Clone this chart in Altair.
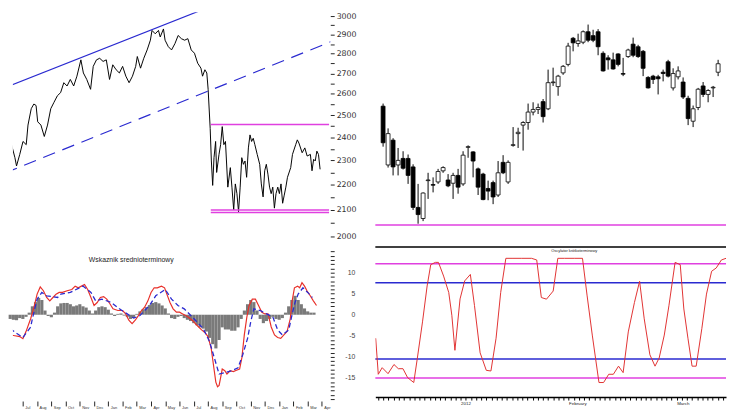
import altair as alt
import pandas as pd

FONT = "Liberation Sans"
MAGENTA = "#e040e0"
BLUE = "#2a2ad0"

# ---------------- left top: index close (months from start, log price) ----------------
lt_month = [0, 0.22, 0.44, 0.67, 0.78, 1.0, 1.22, 1.44, 1.56, 1.78,
            1.96, 2.11, 2.22, 2.44, 2.67, 2.89, 3.11, 3.33, 3.56, 3.78,
            4.0, 4.22, 4.44, 4.67, 4.89, 5.16, 5.33, 5.56, 5.82, 6.0,
            6.22, 6.44, 6.67, 6.89, 7.11, 7.33, 7.56, 7.78, 8.0, 8.22,
            8.44, 8.67, 8.89, 9.0, 9.22, 9.44, 9.67, 9.89, 10.0, 10.22,
            10.44, 10.56, 10.78, 10.89, 11.11, 11.33, 11.56, 11.78, 12.0, 12.22,
            12.44, 12.67, 12.89, 13.11, 13.33, 13.44, 13.6, 13.73, 13.82, 13.96,
            14.04, 14.13, 14.22, 14.33, 14.4, 14.56, 14.67, 14.78, 14.89, 15.0,
            15.16, 15.33, 15.44, 15.56, 15.67, 15.78, 15.89, 16.0, 16.11, 16.22,
            16.33, 16.44, 16.56, 16.67, 16.78, 16.89, 17.0, 17.16, 17.33, 17.44,
            17.56, 17.67, 17.78, 17.89, 18.0, 18.11, 18.22, 18.33, 18.44, 18.56,
            18.67, 18.78, 18.89, 19.0, 19.11, 19.22, 19.44, 19.56, 19.78, 19.89,
            20.0, 20.22, 20.4, 20.56, 20.78, 20.89, 21.0, 21.11, 21.22, 21.33, 21.44]
lt_close = [2382, 2404, 2368, 2312, 2277, 2326, 2382, 2368, 2455, 2530,
            2552, 2545, 2470, 2455, 2404, 2455, 2530, 2560, 2591, 2606,
            2654, 2638, 2670, 2638, 2686, 2768, 2702, 2670, 2622, 2735,
            2768, 2776, 2760, 2768, 2670, 2743, 2718, 2702, 2735, 2686,
            2654, 2686, 2735, 2785, 2726, 2776, 2819, 2870, 2922, 2904,
            2922, 2887, 2930, 2870, 2836, 2819, 2852, 2895, 2878, 2870,
            2878, 2819, 2802, 2751, 2726, 2686, 2718, 2702, 2622, 2440,
            2298, 2197, 2312, 2382, 2250, 2326, 2368, 2448, 2368, 2382,
            2190, 2270, 2190, 2100, 2203, 2164, 2093, 2190, 2312, 2284,
            2298, 2230, 2354, 2411, 2382, 2396, 2368, 2326, 2284, 2203,
            2151, 2257, 2284, 2243, 2190, 2164, 2190, 2107, 2164, 2190,
            2164, 2203, 2126, 2158, 2190, 2230, 2270, 2326, 2368, 2389,
            2375, 2333, 2354, 2319, 2326, 2257, 2305, 2298, 2340, 2326, 2263]

up_trend_month = [0.0, 14.0]
up_trend_value = [2630, 3054]
dn_trend_month = [0.0, 22.2]
dn_trend_value = [2248, 2863]
level_start = [14.0, 14.0, 14.0]
level_end = [22.05, 22.05, 22.05]
level_value = [2458, 2100, 2090]

# ---------------- left bottom: medium-term indicator ----------------
macd_month = [0, 0.33, 0.67, 0.89, 1.11, 1.44, 1.67, 1.89, 2.11, 2.33,
              2.56, 2.78, 3.0, 3.22, 3.44, 3.67, 4.0, 4.33, 4.56, 4.78,
              5.0, 5.22, 5.44, 5.67, 5.89, 6.11, 6.33, 6.56, 6.78, 7.0,
              7.22, 7.56, 7.89, 8.11, 8.33, 8.56, 8.78, 9.0, 9.22, 9.44,
              9.67, 9.89, 10.11, 10.33, 10.62, 10.84, 11.0, 11.22, 11.44, 11.67,
              11.89, 12.11, 12.33, 12.56, 12.78, 13.11, 13.44, 13.67, 13.89, 14.11,
              14.33, 14.44, 14.56, 14.67, 14.78, 14.89, 15.07, 15.22, 15.44, 15.67,
              15.89, 16.11, 16.27, 16.44, 16.62, 16.78, 17.0, 17.22, 17.44, 17.67,
              17.89, 18.11, 18.33, 18.56, 18.78, 19.0, 19.22, 19.44, 19.67, 19.78,
              19.96, 20.18, 20.33, 20.49, 20.67, 20.84, 21.07, 21.29, 21.51]
macd_value = [-4.8, -5.0, -5.2, -5.7, -4.0, -0.9, 1.8, 4.9, 6.6, 5.7,
              4.1, 3.3, 4.1, 4.9, 5.3, 5.3, 5.7, 6.0, 6.8, 6.4,
              6.8, 7.2, 6.0, 4.1, 2.2, 2.9, 4.1, 4.3, 3.7, 2.6,
              1.4, 1.0, 1.0, 0.2, -1.3, -2.1, -1.3, -0.2, 1.0, 1.8,
              3.3, 5.3, 6.4, 6.4, 6.8, 6.4, 4.9, 2.9, 1.4, 0.6,
              0.6, 0.2, -0.2, -0.7, -1.3, -2.5, -3.6, -4.2, -5.2, -7.9,
              -13.3, -16.0, -17.1, -16.8, -14.9, -12.9, -13.3, -14.1, -13.3, -13.5,
              -13.2, -12.9, -10.2, -4.8, -0.5, 2.2, 3.7, 3.7, 2.2, 0.6,
              0.2, 0.2, -2.9, -4.8, -5.4, -5.6, -4.8, -4.0, -0.9, 2.9,
              6.4, 6.8, 6.4, 7.6, 6.8, 5.7, 4.5, 3.3, 2.2]
signal_month = [0, 0.44, 0.89, 1.44, 1.56, 1.89, 2.22, 2.56, 3.33, 3.56,
                4.22, 5.11, 5.67, 6.0, 6.44, 7.11, 7.67, 8.22, 8.67, 9.11,
                9.78, 10.22, 10.89, 11.33, 11.78, 12.22, 12.89, 13.56, 14.0, 14.4,
                14.67, 15.11, 15.56, 16.0, 16.33, 16.67, 16.89, 17.11, 17.56, 18.0,
                18.44, 18.78, 19.11, 19.56, 19.78, 20.0, 20.22, 20.56, 20.89, 21.22]
signal_value = [-3.3, -4.4, -5.4, -2.9, -0.9, 3.7, 5.3, 4.5, 4.1, 4.9,
                5.3, 6.8, 5.3, 3.3, 3.7, 2.9, 1.4, 0.2, -0.8, -0.2,
                2.2, 4.5, 6.0, 3.7, 2.2, 1.4, -0.9, -3.3, -6.4, -11.0,
                -14.1, -13.7, -13.3, -12.6, -9.5, -5.6, -1.7, 1.4, 1.0, 0.2,
                -0.5, -3.6, -4.8, -3.6, -0.2, 2.9, 4.9, 6.4, 5.3, 4.1]
hist_value = [-1.0, -1.2, -1.3, -0.8, -1.0, -0.5, 0.5, 2.0, 3.0, 4.0,
              3.5, 1.0, -0.3, -0.6, 0.5, 2.0, 2.7, 2.8, 2.8, 2.5,
              2.0, 2.2, 2.5, 2.0, 1.7, 1.0, 0.3, 1.0, 1.8, 2.0,
              1.8, 1.2, 0.3, -0.3, 0.2, 0.3, -0.2, -0.5, -1.0, -0.8,
              0.2, 0.8, 1.3, 1.8, 2.3, 2.8, 3.0, 2.7, 2.2, 1.5,
              0.3, -0.8, -1.0, -0.5, -0.3, -0.8, -1.2, -1.5, -2.0, -2.5,
              -3.0, -3.3, -4.0, -5.5, -7.0, -8.0, -6.0, -3.0, -3.5, -3.5,
              -3.8, -3.8, -3.0, -1.0, 1.0, 2.5, 3.5, 3.0, 1.0, -1.0,
              -2.0, -1.5, -1.0, -0.5, -1.0, -1.2, -0.8, 0.5, 2.0, 3.5,
              4.5, 3.5, 2.5, 1.5, 0.8, 0.5, 0.5]
hist_month = [round(k * 10 / 45, 3) for k in range(len(hist_value))]
month_names = ["Jul", "Aug", "Sep", "Oct", "Nov", "Dec", "Jan", "Feb", "Mar", "Apr", "May",
               "Jun", "Jul", "Aug", "Sep", "Oct", "Nov", "Dec", "Jan", "Feb", "Mar", "Apr"]
month_ticks = [k + 0.89 for k in range(len(month_names))]
lb_title = "Wskaznik srednioterminowy"

# ---------------- right top: daily candles ----------------
c_open = [2294, 2204, 2242, 2204, 2214, 2214, 2201, 2139, 2122, 2180,
          2174, 2178, 2195, 2181, 2176, 2188, 2175, 2231, 2224, 2198,
          2190, 2168, 2177, 2158, 2208, 2178, 2234, 2252, 2265, 2269,
          2285, 2289, 2301, 2290, 2330, 2324, 2345, 2358, 2398, 2390,
          2392, 2408, 2402, 2408, 2375, 2368, 2365, 2374, 2344, 2370,
          2389, 2385, 2378, 2338, 2340, 2339, 2346, 2362, 2322, 2339,
          2331, 2306, 2271, 2292, 2325, 2312, 2322, 2346]
c_close = [2238, 2252, 2201, 2211, 2199, 2188, 2139, 2128, 2161, 2181,
           2173, 2194, 2200, 2172, 2188, 2170, 2219, 2232, 2210, 2170,
           2151, 2164, 2155, 2192, 2192, 2208, 2235, 2254, 2269, 2285,
           2289, 2292, 2278, 2330, 2331, 2340, 2355, 2386, 2391, 2394,
           2408, 2395, 2395, 2385, 2348, 2365, 2351, 2358, 2343, 2380,
           2372, 2370, 2352, 2322, 2335, 2336, 2344, 2340, 2344, 2348,
           2308, 2275, 2290, 2320, 2312, 2318, 2323, 2359]
c_high = [2298, 2260, 2245, 2230, 2225, 2220, 2205, 2175, 2162, 2192,
          2185, 2198, 2202, 2190, 2192, 2198, 2225, 2234, 2225, 2200,
          2192, 2180, 2180, 2210, 2219, 2211, 2262, 2261, 2271, 2298,
          2300, 2298, 2305, 2350, 2353, 2342, 2357, 2391, 2400, 2405,
          2410, 2419, 2411, 2412, 2378, 2372, 2376, 2375, 2368, 2382,
          2399, 2388, 2380, 2340, 2342, 2342, 2350, 2365, 2352, 2355,
          2338, 2310, 2295, 2322, 2331, 2320, 2325, 2365]
c_low = [2232, 2200, 2188, 2188, 2197, 2175, 2135, 2114, 2118, 2152,
         2162, 2175, 2192, 2170, 2152, 2160, 2172, 2215, 2185, 2158,
         2150, 2150, 2144, 2155, 2190, 2175, 2232, 2230, 2226, 2258,
         2280, 2282, 2269, 2288, 2325, 2310, 2342, 2355, 2378, 2385,
         2389, 2392, 2392, 2372, 2347, 2350, 2350, 2355, 2340, 2368,
         2369, 2368, 2340, 2321, 2328, 2312, 2332, 2338, 2318, 2335,
         2305, 2265, 2262, 2288, 2308, 2300, 2308, 2340]
candle_support = [2112]

# ---------------- right bottom: short-term oscillator ----------------
osc_idx = [-0.5, 0, 0.76, 1.9, 3.05, 3.9, 4.8, 5.7, 6.9, 7.6,
           8.6, 9.5, 10.2, 11.1, 11.7, 12.7, 13.7, 14.3, 14.9, 15.9,
           16.8, 17.9, 18.7, 19.8, 21.0, 21.9, 22.9, 23.8, 24.8, 26.0,
           27.9, 29.8, 30.8, 31.7, 32.7, 34.0, 34.9, 36.2, 38.1, 39.7,
           40.6, 41.6, 42.9, 43.8, 44.8, 45.7, 46.7, 47.6, 48.6, 49.8,
           50.8, 51.7, 52.8, 53.8, 54.6, 55.6, 56.5, 57.7, 58.7, 59.4,
           60.2, 61.0, 61.8, 62.9, 63.8, 64.8, 65.7, 66.7, 67.6]
osc_value = [36.3, 7.9, 13.1, 8.4, 15.6, 12.3, 12.3, 5.3, 1.4, 20.7,
             49.2, 77.5, 94.3, 96.1, 96.1, 85.3, 72.4, 54.4, 26.8, 67.3,
             81.5, 86.6, 62.2, 24.8, 11.0, 10.5, 36.3, 72.4, 99.3, 99.3,
             99.3, 99.3, 98.0, 68.4, 67.1, 73.5, 99.3, 99.3, 99.3, 99.3,
             69.7, 38.8, 1.4, 1.4, 7.9, 7.9, 14.3, 9.2, 41.3, 64.5,
             81.2, 51.6, 23.3, 14.3, 20.7, 38.8, 61.9, 96.1, 94.3, 59.4,
             36.3, 14.3, 14.3, 43.9, 71.1, 89.1, 91.7, 98.0, 99.3]
osc_levels = [95, 80, 20, 5]
osc_level_colors = [MAGENTA, BLUE, BLUE, MAGENTA]
osc_frame = [108.3]
rb_title = "Oscylator krótkoterminowy"
rb_month_labels = {16: "2012", 37: "February", 58: "March"}

# =================== LEFT TOP ===================
lt_x = alt.Scale(domain=[0.533, 22.133], nice=False, zero=False)
lt_y = alt.Scale(type="log", domain=[1982, 3022], nice=False)
lt_axis = alt.Axis(orient="right", values=list(range(2000, 3001, 50)), format="d",
                   labelExpr="datum.value % 100 == 0 ? datum.label : ''",
                   domain=False, grid=False, tickSize=4, tickColor="#222222",
                   labelFont="DejaVu Sans", labelFontSize=8, labelColor="#333333",
                   labelPadding=2, labelOverlap=False, minExtent=45, maxExtent=45, title=None)
X_lt = alt.X("m:Q", scale=lt_x, axis=None)
Y_lt = alt.Y("p:Q", scale=lt_y, axis=lt_axis)

price_line = alt.Chart(pd.DataFrame({"m": lt_month, "p": lt_close})).mark_line(
    color="black", strokeWidth=1, clip=True).encode(x=X_lt, y=Y_lt)
trend_up = alt.Chart(pd.DataFrame({"m": up_trend_month, "p": up_trend_value})).mark_line(
    color=BLUE, strokeWidth=1.2, clip=True).encode(x=X_lt, y=Y_lt)
trend_dn = alt.Chart(pd.DataFrame({"m": dn_trend_month, "p": dn_trend_value})).mark_line(
    color=BLUE, strokeWidth=1.2, strokeDash=[13, 8], clip=True).encode(x=X_lt, y=Y_lt)
levels = alt.Chart(pd.DataFrame({"m": level_start, "m2": level_end, "p": level_value})).mark_rule(
    color=MAGENTA, strokeWidth=1.5, clip=True).encode(x=X_lt, x2="m2:Q", y=Y_lt)
left_top = alt.layer(price_line, trend_up, trend_dn, levels).properties(width=324, height=234)

# =================== LEFT BOTTOM ===================
lb_y = alt.Scale(domain=[-20.5, 15.8], nice=False, zero=False)
lb_axis_y = alt.Axis(orient="right", values=list(range(-20, 16)),
                     labelExpr="datum.value % 5 == 0 && datum.value >= -15 && datum.value <= 10 ? (datum.value < 0 ? '-' : '') + abs(datum.value) : ''",
                     domain=False, grid=False, tickSize=4, tickColor="#222222",
                     labelAlign="right", labelPadding=21, labelFont=FONT, labelFontSize=7,
                     labelColor="#444444", labelOverlap=False, minExtent=45, maxExtent=45, title=None)
names_js = "[" + ",".join("'" + n + "'" for n in month_names) + "]"
lb_axis_x = alt.Axis(values=month_ticks, labelExpr=names_js + "[round(datum.value - 0.89)]",
                     domain=False, grid=False, tickSize=5, tickColor="#222222",
                     labelFont=FONT, labelFontSize=4, labelColor="#333333", labelAlign="left",
                     labelOffset=2, labelPadding=0, labelOverlap=False, title=None)
X_lb = alt.X("m:Q", scale=lt_x, axis=lb_axis_x)
Y_lb = alt.Y("v:Q", scale=lb_y, axis=lb_axis_y)

hist = alt.Chart(pd.DataFrame({"m": hist_month, "v": hist_value})).mark_bar(
    size=3.2, color="#7a7a7a").encode(x=X_lb, y=Y_lb, y2=alt.datum(0))
macd = alt.Chart(pd.DataFrame({"m": macd_month, "v": macd_value})).mark_line(
    color="#e8302a", strokeWidth=1.2, clip=True).encode(x=X_lb, y=Y_lb)
signal = alt.Chart(pd.DataFrame({"m": signal_month, "v": signal_value})).mark_line(
    color=BLUE, strokeWidth=1.3, strokeDash=[5, 3], clip=True).encode(x=X_lb, y=Y_lb)
lb_text = alt.Chart(pd.DataFrame({"m": [8.5], "v": [13.0], "label": [lb_title]})).mark_text(
    font=FONT, fontSize=7, color="#222222").encode(x=X_lb, y=Y_lb, text="label:N")
left_bottom = alt.layer(hist, macd, signal, lb_text).properties(width=324, height=156)

# =================== RIGHT TOP ===================
rt_x = alt.Scale(domain=[-0.57, 67.6], nice=False, zero=False)
rt_y = alt.Scale(domain=[2087, 2438], nice=False, zero=False)
cdf = pd.DataFrame({"i": list(range(len(c_open))), "open": c_open, "close": c_close,
                    "high": c_high, "low": c_low})
cdf["fill"] = ["black" if c < o else "white" for o, c in zip(c_open, c_close)]
X_rt = alt.X("i:Q", scale=rt_x, axis=None)
wicks = alt.Chart(cdf).mark_rule(color="black", strokeWidth=1).encode(
    x=X_rt, y=alt.Y("low:Q", scale=rt_y, axis=None), y2="high:Q")
bodies = alt.Chart(cdf).mark_bar(size=4.0, stroke="black", strokeWidth=0.8).encode(
    x=X_rt, y=alt.Y("open:Q", scale=rt_y, axis=None), y2="close:Q",
    color=alt.Color("fill:N", scale=None))
support = alt.Chart(pd.DataFrame({"q": candle_support})).mark_rule(
    color=MAGENTA, strokeWidth=1.5).encode(y=alt.Y("q:Q", scale=rt_y, axis=None))
right_top = alt.layer(support, wicks, bodies).properties(width=358, height=234)

# =================== RIGHT BOTTOM ===================
rb_y = alt.Scale(domain=[-10.1, 108.8], nice=False, zero=False)
rb_expr = " : ".join("datum.value == %d ? '%s'" % (k, v) for k, v in rb_month_labels.items()) + " : ''"
rb_axis_x = alt.Axis(values=list(range(68)), labelExpr=rb_expr, domainColor="black", domainWidth=1.5,
                     tickColor="black", tickSize=3, grid=False, labelFont=FONT, labelFontSize=4.5,
                     labelColor="#222222", labelAlign="left", labelPadding=1, labelOverlap=False, title=None)
X_rb = alt.X("i:Q", scale=rt_x, axis=rb_axis_x)
Y_rb = alt.Y("v:Q", scale=rb_y, axis=None)
osc_lv = alt.Chart(pd.DataFrame({"v": osc_levels, "c": osc_level_colors})).mark_rule(
    strokeWidth=1.5).encode(y=Y_rb, color=alt.Color("c:N", scale=None))
osc_top = alt.Chart(pd.DataFrame({"v": osc_frame})).mark_rule(
    color="black", strokeWidth=1.5).encode(y=Y_rb)
osc_line = alt.Chart(pd.DataFrame({"i": osc_idx, "v": osc_value})).mark_line(
    color="#e03030", strokeWidth=1, clip=True).encode(x=X_rb, y=Y_rb)
rb_text = alt.Chart(pd.DataFrame({"i": [38.1], "v": [104.8], "label": [rb_title]})).mark_text(
    font=FONT, fontSize=4, color="#222222").encode(x=X_rb, y=Y_rb, text="label:N")
right_bottom = alt.layer(osc_lv, osc_top, osc_line, rb_text).properties(width=358, height=154)

left = alt.vconcat(left_top, left_bottom, spacing=6)
right = alt.vconcat(right_top, right_bottom, spacing=4)
chart = alt.hconcat(left, right, spacing=0).properties(
    padding=0, background="white").configure_view(stroke=None)

chart.save("out.html", embed_options={"renderer": "svg", "actions": False})
